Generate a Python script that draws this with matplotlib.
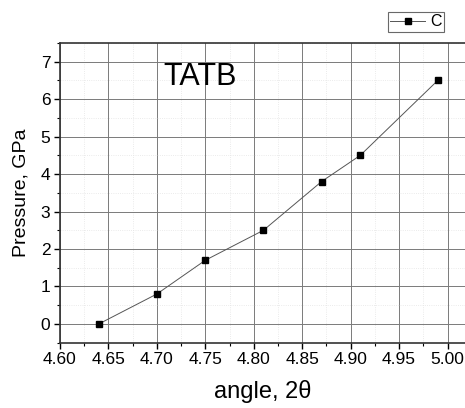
import matplotlib.pyplot as plt
from matplotlib.ticker import MultipleLocator

plt.rcParams['font.family'] = ['Liberation Sans', 'DejaVu Sans']

angle = [4.64, 4.70, 4.75, 4.81, 4.87, 4.91, 4.99]
pressure = [0.0, 0.8, 1.7, 2.5, 3.8, 4.5, 6.5]

fig = plt.figure(figsize=(4.65, 4.08), dpi=100)
ax = fig.add_axes([0.129, 0.160, 0.871, 0.735])

ax.plot(angle, pressure, color='#555555', lw=0.7, marker='s', ms=5,
        mfc='black', mec='black', label='C')

ax.set_xlim(4.60, 5.018)
ax.set_ylim(-0.5, 7.5)
ax.xaxis.set_major_locator(MultipleLocator(0.05))
ax.xaxis.set_minor_locator(MultipleLocator(0.025))
ax.yaxis.set_major_locator(MultipleLocator(1))
ax.yaxis.set_minor_locator(MultipleLocator(0.5))
ax.set_xticks([4.60, 4.65, 4.70, 4.75, 4.80, 4.85, 4.90, 4.95, 5.00])
ax.set_xticklabels(['4.60', '4.65', '4.70', '4.75', '4.80', '4.85', '4.90', '4.95', '5.00'])

ax.grid(which='major', color='#7a7a7a', lw=0.7)
ax.grid(which='minor', color='#e4e4e4', lw=0.6, ls=':')
ax.set_axisbelow(True)

for s in ['top', 'left', 'bottom']:
    ax.spines[s].set_linewidth(1.2)
    ax.spines[s].set_color('#333333')
ax.spines['right'].set_visible(False)

ax.tick_params(which='major', direction='out', length=4, width=1, labelsize=12.5, pad=3)
ax.tick_params(which='minor', direction='out', length=2.5, width=0.8)

ax.set_xlabel('angle, 2θ', fontsize=17, labelpad=9)
ax.set_ylabel('Pressure, GPa', fontsize=14, labelpad=8)

ax.text(4.745, 6.6, 'TATB', fontsize=22, ha='center', va='center')

leg = ax.legend(loc='upper right', bbox_to_anchor=(0.948, 1.103), fontsize=11.5,
                frameon=True, fancybox=False, edgecolor='#444444',
                handlelength=2.2, handletextpad=0.3, borderpad=0.15,
                borderaxespad=0, markerscale=0.9)
leg.get_frame().set_linewidth(0.8)

fig.savefig('out.png', dpi=100)
